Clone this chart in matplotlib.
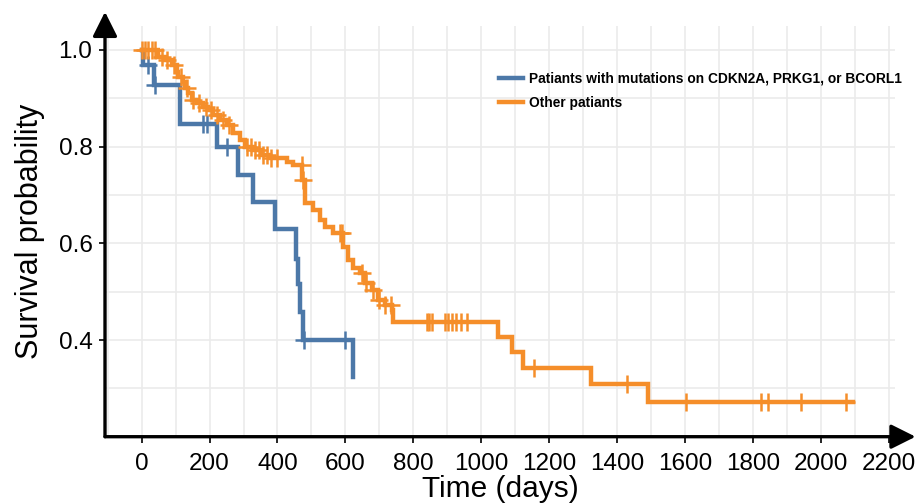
import numpy as np
import matplotlib
matplotlib.use("Agg")
import matplotlib.pyplot as plt
from matplotlib.ticker import MultipleLocator, FixedLocator

plt.rcParams['font.family'] = ['Liberation Sans', 'DejaVu Sans']

# Kaplan-Meier step data (days, survival after step)
mut_label = "Patiants with mutations on CDKN2A, PRKG1, or BCORL1"
mut_times = [0, 3, 35, 112, 222, 283, 328, 392, 454, 460, 466, 475, 622]
mut_surv = [1.0, 0.969, 0.928, 0.847, 0.800, 0.742, 0.685, 0.629,
            0.567, 0.515, 0.458, 0.400, 0.324]
mut_censor = [19, 39, 180, 192, 251, 478, 599]

oth_label = "Other patiants"
oth_times = [0, 49, 68, 88, 103, 108, 122, 127, 137, 147, 162, 181, 196,
             211, 230, 250, 270, 289, 304, 329, 354, 378, 427, 445, 472,
             481, 505, 525, 540, 564, 594, 608, 623, 643, 658, 677, 697,
             717, 736, 741, 1050, 1090, 1124, 1323, 1492, 2096]
oth_surv = [1.0, 0.986, 0.979, 0.969, 0.955, 0.945, 0.934, 0.921, 0.910,
            0.897, 0.890, 0.883, 0.876, 0.866, 0.855, 0.845, 0.828, 0.814,
            0.800, 0.793, 0.783, 0.777, 0.769, 0.762, 0.731, 0.683, 0.669,
            0.648, 0.634, 0.621, 0.593, 0.565, 0.548, 0.538, 0.517, 0.503,
            0.483, 0.472, 0.462, 0.438, 0.407, 0.376, 0.343, 0.310, 0.272,
            0.272]
oth_censor = [0, 10, 20, 30, 40, 60, 75, 95, 115, 133, 152, 170, 190, 205,
              222, 240, 258, 310, 322, 335, 345, 358, 368, 380, 400, 471,
              476, 584, 590, 648, 662, 682, 700, 717, 733, 840, 847, 856,
              893, 902, 913, 927, 942, 959, 1156, 1429, 1603, 1824, 1844,
              1941, 2074]

blue = '#4C78A8'
orange = '#F58E2A'


def surv_at(times, surv, t):
    i = np.searchsorted(times, t, side='right') - 1
    return np.asarray(surv)[i]


fig = plt.figure(figsize=(9.15, 5.04), dpi=100)
ax = fig.add_axes([105 / 915, 1 - 436.7 / 504, 790 / 915, 410.9 / 504])

for times, surv, cens, col, lab, z in [
        (mut_times, mut_surv, mut_censor, blue, mut_label, 3),
        (oth_times, oth_surv, oth_censor, orange, oth_label, 4)]:
    ax.step(times, surv, where='post', color=col, lw=3.2, label=lab,
            zorder=z, solid_joinstyle='miter')
    ax.plot(cens, surv_at(times, surv, cens), ls='none', marker='+',
            ms=13, mew=1.8, color=col, zorder=z)

ax.set_xlim(-108, 2219)
ax.set_ylim(0.2, 1.05)
ax.xaxis.set_major_locator(MultipleLocator(200))
ax.xaxis.set_minor_locator(MultipleLocator(100))
ax.yaxis.set_major_locator(FixedLocator([0.4, 0.6, 0.8, 1.0]))
ax.yaxis.set_minor_locator(FixedLocator([0.3, 0.5, 0.7, 0.9]))
ax.grid(True, which='both', color='#ebebeb', lw=1.2, zorder=0)
ax.set_axisbelow(True)
ax.tick_params(which='major', length=4, width=1.2, labelsize=17.5, pad=5)
ax.tick_params(axis='x', which='major', pad=8)
ax.tick_params(which='minor', length=0)

for s in ax.spines.values():
    s.set_visible(False)

arrow = dict(arrowstyle='-|>,head_length=1.0,head_width=0.5', lw=2.4,
             color='k', shrinkA=0, shrinkB=0, mutation_scale=15)
ax.annotate('', xy=(0, 1.034), xytext=(0, 0), xycoords='axes fraction',
            arrowprops=arrow, annotation_clip=False)
ax.annotate('', xy=(1.026, 0), xytext=(0, 0), xycoords='axes fraction',
            arrowprops=arrow, annotation_clip=False)

ax.set_xlabel('Time (days)', fontsize=21.5, labelpad=0)
ax.set_ylabel('Survival probability', fontsize=22, labelpad=10)

ax.legend(loc='upper left', bbox_to_anchor=(493 / 915, 1 - 66 / 504),
          bbox_transform=fig.transFigure, frameon=False,
          prop={'weight': 'bold', 'size': 9.9}, handlelength=1.8,
          handletextpad=0.42, labelspacing=0.78, borderaxespad=0)

fig.savefig('out.png', dpi=100)
